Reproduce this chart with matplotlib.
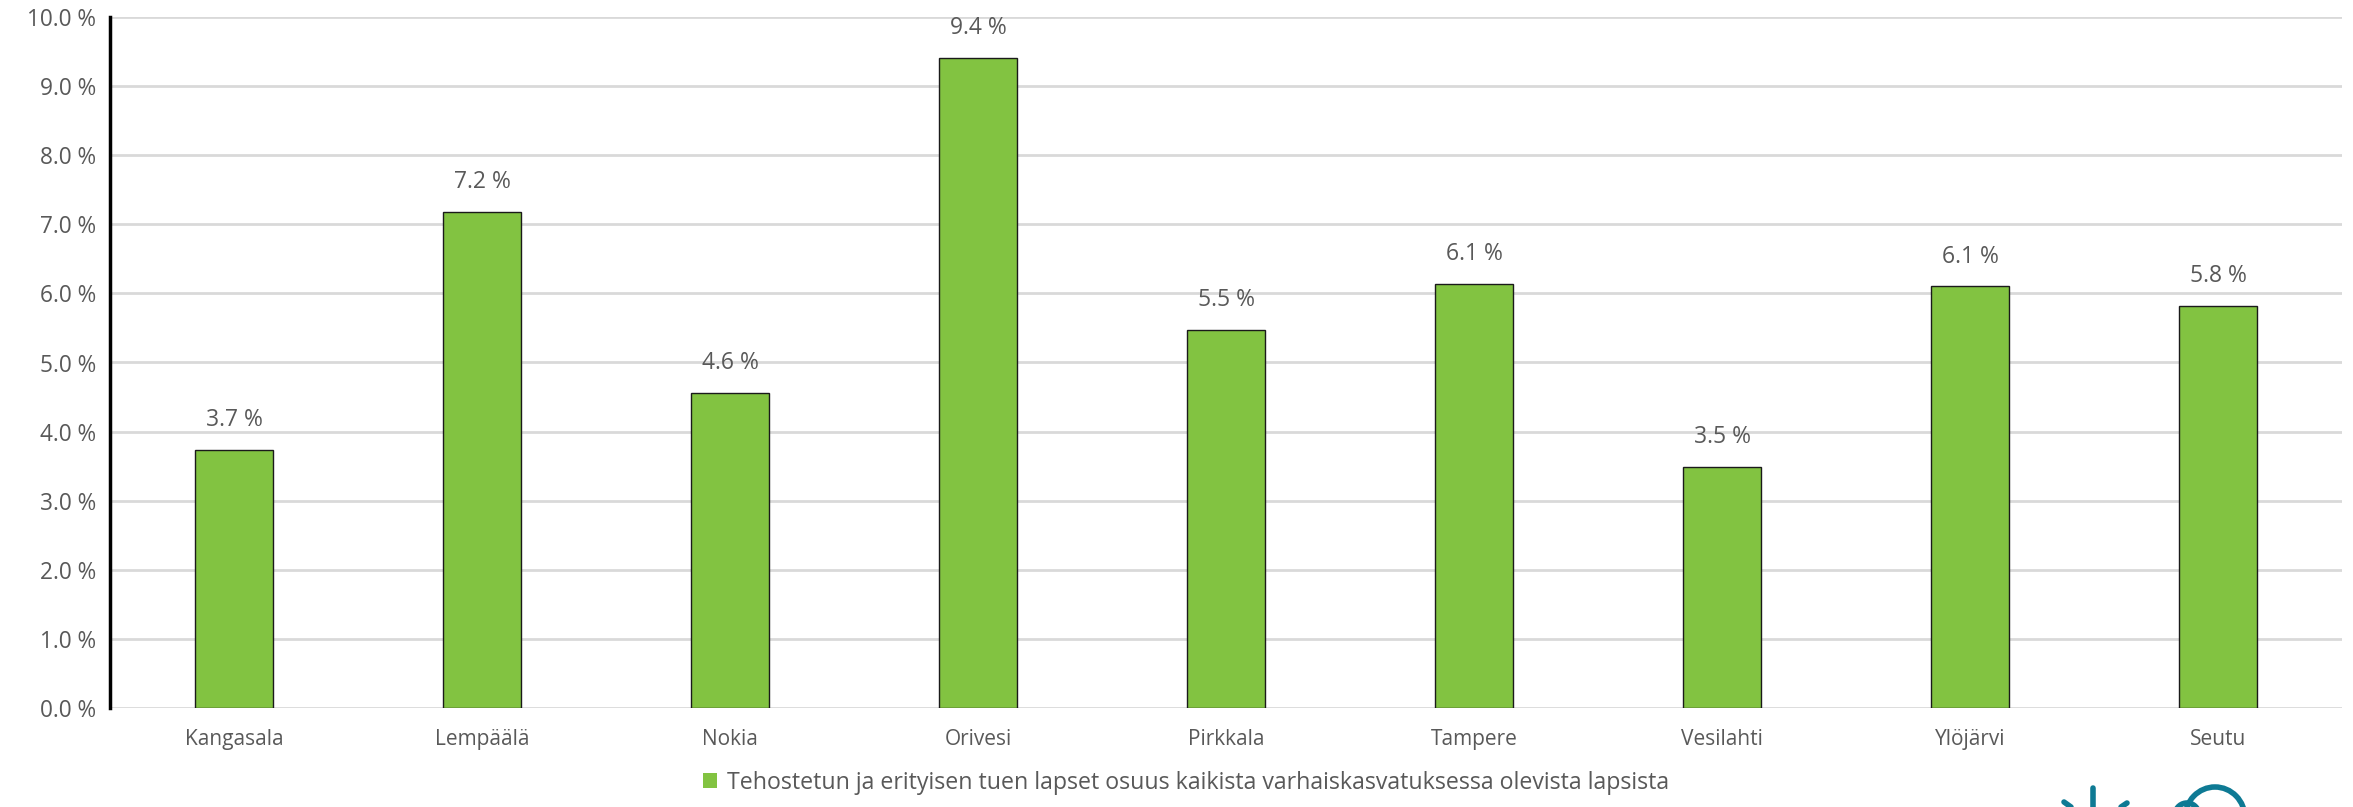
import matplotlib.pyplot as plt
from matplotlib.patches import Arc
from matplotlib.lines import Line2D

plt.rcParams['font.family'] = ['Open Sans', 'DejaVu Sans']

kunnat = ["Kangasala", "Lempäälä", "Nokia", "Orivesi", "Pirkkala",
          "Tampere", "Vesilahti", "Ylöjärvi", "Seutu"]
osuus = [3.74, 7.18, 4.56, 9.41, 5.47, 6.14, 3.49, 6.10, 5.82]
sarja = "Tehostetun ja erityisen tuen lapset osuus kaikista varhaiskasvatuksessa olevista lapsista"
yticks = [0, 1, 2, 3, 4, 5, 6, 7, 8, 9, 10]

GREEN = "#82C341"
GRAY_TXT = "#595959"

fig = plt.figure(figsize=(23.53, 8.07), dpi=100)
ax = fig.add_axes([110 / 2353, 1 - 708 / 807, (2342 - 110) / 2353, (708 - 17) / 807])

x = range(len(kunnat))
bars = ax.bar(x, osuus, width=0.315, color=GREEN, edgecolor="#1a1a1a",
              linewidth=1.0, zorder=3, label=sarja)

for b, v in zip(bars, osuus):
    ax.text(b.get_x() + b.get_width() / 2, v + 0.26, "%.1f %%" % v,
            ha="center", va="bottom", fontsize=16.5, color=GRAY_TXT)

ax.set_xlim(-0.5, len(kunnat) - 0.5)
ax.set_ylim(0, 10)
ax.set_yticks(yticks)
ax.set_yticklabels(["%.1f %%" % t for t in yticks], fontsize=16.3, color=GRAY_TXT)
ax.set_xticks(list(x))
ax.set_xticklabels(kunnat, fontsize=15, color=GRAY_TXT)
ax.tick_params(axis="both", length=0)
ax.tick_params(axis="y", pad=10)
ax.tick_params(axis="x", pad=15)

ax.grid(axis="y", color="#d9d9d9", linewidth=2, zorder=0)
for s in ["top", "right", "bottom"]:
    ax.spines[s].set_visible(False)
ax.spines["left"].set_color("black")
ax.spines["left"].set_linewidth(2.5)
ax.spines["left"].set_zorder(4)

leg = fig.legend(handles=[bars], labels=[sarja], loc="center",
                 bbox_to_anchor=(1186 / 2353, 1 - 783 / 807), frameon=False,
                 fontsize=16.7, handlelength=0.6, handleheight=0.6,
                 handletextpad=0.4, labelcolor=GRAY_TXT)
for h in leg.legend_handles:
    h.set_edgecolor("none")

# partial logo at bottom right
TEAL = "#0E7A94"
def px(xp, yp):
    return xp / 2353, 1 - yp / 807

for (x0, y0, x1, y1) in [(2093, 788, 2093, 807), (2064, 802, 2071, 807), (2127, 803, 2121, 807)]:
    a, b = px(x0, y0)
    c, d = px(x1, y1)
    fig.add_artist(Line2D([a, c], [b, d], color=TEAL, linewidth=4, solid_capstyle="round"))

cx, cy = px(2215, 818)
fig.add_artist(Arc((cx, cy), 60 / 2353, 62 / 807, theta1=0, theta2=180,
                   color=TEAL, linewidth=4, transform=fig.transFigure))
cx2, cy2 = px(2187, 815)
fig.add_artist(Arc((cx2, cy2), 24 / 2353, 24 / 807, theta1=40, theta2=180,
                   color=TEAL, linewidth=4, transform=fig.transFigure))

fig.savefig("out.png", dpi=100, facecolor="white")
